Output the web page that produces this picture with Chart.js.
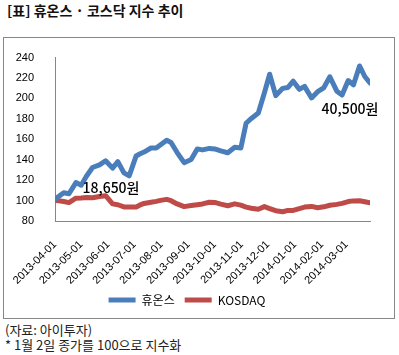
<!DOCTYPE html>
<html><head><meta charset="utf-8">
<script src="https://cdn.jsdelivr.net/npm/chart.js@4/dist/chart.umd.min.js"></script>
<style>
html,body{margin:0;padding:0;background:#fff;width:399px;height:355px;overflow:hidden;position:relative;font-family:"Noto Sans CJK KR","Noto Sans",sans-serif;}
#title{position:absolute;left:7px;top:1px;font-size:14px;font-weight:bold;color:#111;line-height:18px;white-space:nowrap;}
#box{position:absolute;left:3px;top:37px;width:390px;height:280px;border:1px solid #878787;}
#c{position:absolute;left:0;top:0;}
.note{position:absolute;left:5px;font-size:13px;color:#222;line-height:16px;white-space:nowrap;}
</style></head>
<body>
<div id="title">[표] 휴온스 · 코스닥 지수 추이</div>
<div id="box"><canvas id="c" width="390" height="280"></canvas></div>
<div class="note" style="top:322px">(자료: 아이투자)</div>
<div class="note" style="top:337px">* 1월 2일 종가를 100으로 지수화</div>
<script>
// days since 2013-04-01
const dayOffsets = [0,10,16,24,30,36,43,51,58,66,72,79,85,93,97,102,110,116,121,128,133,140,148,156,163,169,177,183,190,198,206,213,219,225,233,240,246,253,261,267,273,280,286,294,301,308,315,323,329,336,342,349,355,361];
const huons = [101.4,107.6,106.7,117.6,115.1,123.8,132.4,134.9,139.0,131.8,138.1,127.1,124.2,143.7,145.6,147.5,151.5,151.5,154.6,159.1,156.9,147.0,137.1,140.2,150.6,149.6,151.1,150.6,148.7,146.8,152.2,151.5,175.7,180.4,185.7,205.5,223.7,202.8,209.9,210.8,216.9,208.9,211.8,200.5,206.6,210.4,221.2,207.1,203.3,217.6,213.2,231.8,221.5,215.1];
const kosdaq = [100.3,99.1,98.0,102.3,102.5,102.9,102.8,104.0,104.8,96.8,95.9,93.8,93.8,93.8,95.5,97.2,98.3,99.2,100.2,101.2,99.9,96.7,94.1,95.1,95.9,96.7,98.4,98.2,96.5,94.9,96.8,95.5,93.6,92.5,91.5,94.1,92.2,90.1,89.1,90.4,90.4,92.2,93.6,94.3,93.0,93.9,95.4,96.3,97.3,99.0,99.7,99.8,98.8,97.9];
const monthLabels = ['2013-04-01','2013-05-01','2013-06-01','2013-07-01','2013-08-01','2013-09-01','2013-10-01','2013-11-01','2013-12-01','2014-01-01','2014-02-01','2014-03-01'];
const yTicks = [80,100,120,140,160,180,200,220,240];
const seriesNames = ['휴온스','KOSDAQ'];
const pointLabels = [{series:0, index:0, text:'18,650원'}, {series:0, index:huons.length-1, text:'40,500원'}];

const base = Date.UTC(2013,3,1);
const monthDays = monthLabels.map(s => { const [y,m,d] = s.split('-').map(Number); return Math.round((Date.UTC(y,m-1,d)-base)/86400000); });
const labelByDay = {}; monthDays.forEach((d,i)=>labelByDay[d]=monthLabels[i]);

const labelOffsets = [{dx:56, dy:-11}, {dx:-20, dy:26}];
const labelPlugin = {
  id:'pl',
  afterDatasetsDraw(chart){
    const ctx = chart.ctx;
    ctx.save();
    ctx.font = '500 14px "Noto Sans CJK KR", sans-serif';
    ctx.fillStyle = '#000';
    ctx.textAlign = 'center';
    ctx.textBaseline = 'middle';
    pointLabels.forEach((p,i)=>{
      const el = chart.getDatasetMeta(p.series).data[p.index];
      ctx.fillText(p.text, el.x + labelOffsets[i].dx, el.y + labelOffsets[i].dy);
    });
    ctx.restore();
  }
};

new Chart(document.getElementById('c'), {
  type:'line',
  data:{datasets:[
    {label:seriesNames[0], data:dayOffsets.map((d,i)=>({x:d,y:huons[i]})), borderColor:'#4A7EBB', backgroundColor:'#4A7EBB', borderWidth:5, pointRadius:0, borderJoinStyle:'round', borderCapStyle:'round', tension:0},
    {label:seriesNames[1], data:dayOffsets.map((d,i)=>({x:d,y:kosdaq[i]})), borderColor:'#BE4B48', backgroundColor:'#BE4B48', borderWidth:5, pointRadius:0, borderJoinStyle:'round', borderCapStyle:'round', tension:0}
  ]},
  options:{
    responsive:false, animation:false, devicePixelRatio:1,
    layout:{padding:{top:12,right:24,bottom:2,left:0}},
    plugins:{
      tooltip:{enabled:false},
      legend:{position:'bottom', labels:{usePointStyle:true, pointStyle:'line', pointStyleWidth:27, boxHeight:12, padding:10, color:'#000', font:{family:'"Noto Sans CJK KR", sans-serif', size:12}}}
    },
    scales:{
      x:{type:'linear', min:0, max:dayOffsets[dayOffsets.length-1],
        grid:{display:false}, border:{display:true,color:'#868686'},
        afterBuildTicks:(s)=>{ s.ticks = monthDays.map(v=>({value:v})); },
        afterFit:(s)=>{ s.height = 63; },
        ticks:{autoSkip:false, minRotation:45, maxRotation:45, padding:9, color:'#000', font:{family:'"Liberation Sans", Arial, sans-serif', size:11}, callback:(v)=>labelByDay[v] ?? ''}
      },
      y:{min:80, max:240,
        grid:{display:false}, border:{display:true,color:'#868686'},
        afterBuildTicks:(s)=>{ s.ticks = yTicks.map(v=>({value:v})); },
        afterFit:(s)=>{ s.width = 51; },
        ticks:{padding:13, color:'#000', font:{family:'"Liberation Sans", Arial, sans-serif', size:11}}
      }
    }
  },
  plugins:[labelPlugin]
});
</script>
</body></html>
